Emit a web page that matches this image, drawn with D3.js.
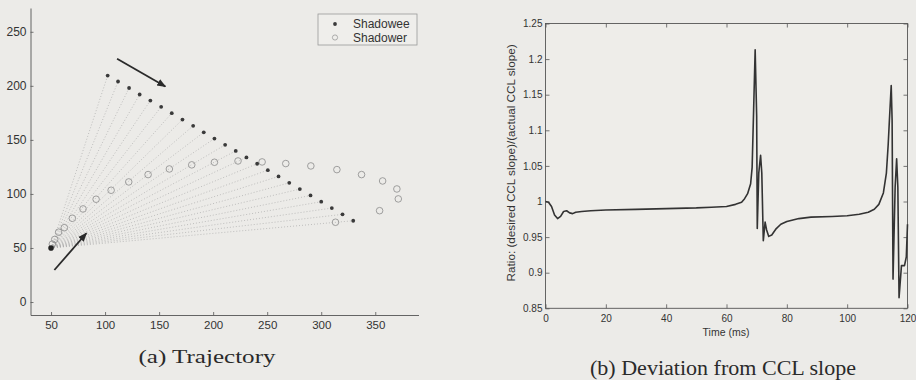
<!DOCTYPE html>
<html>
<head>
<meta charset="utf-8">
<script src="https://cdn.jsdelivr.net/npm/d3@7"></script>
<style>
  html, body { margin: 0; padding: 0; background: #ecebe8; }
  svg { display: block; }
  text { font-family: "Liberation Sans", Arial, sans-serif; fill: #333; }
  .cap { font-family: "Liberation Serif", "Times New Roman", serif; fill: #2a2a2a; }
</style>
</head>
<body>
<svg id="chart" width="916" height="380"></svg>
<script>
// ---------- (a) Trajectory data ----------
const refPoint = [50, 50];
const shadoweeX = [102.4, 112.0, 122.2, 132.0, 141.9, 151.9, 161.7, 171.6, 181.5, 191.3, 201.2, 211.1, 220.9, 230.8, 240.7, 250.6, 260.5, 270.4, 280.2, 290.1, 300.0, 309.8, 319.7, 329.6];
const shadoweeY = [209.5, 204.0, 198.0, 192.0, 186.4, 180.6, 174.7, 168.8, 163.0, 157.0, 151.2, 145.4, 139.8, 133.8, 127.9, 122.0, 116.2, 110.3, 104.5, 98.6, 92.8, 86.9, 81.1, 75.2];
const shadowerX = [51.2, 53.4, 57.0, 62.3, 69.7, 79.6, 91.7, 105.6, 121.9, 139.8, 159.5, 180.2, 201.2, 223.0, 245.3, 267.2, 290.4, 314.5, 337.3, 356.8, 370.0, 371.3, 354.0, 313.2];
const shadowerY = [53.6, 57.9, 64.6, 68.8, 77.5, 86.1, 95.1, 103.4, 111.1, 117.9, 123.1, 126.9, 129.3, 130.5, 129.6, 128.1, 125.9, 122.5, 117.9, 112.0, 104.6, 95.4, 84.5, 73.8];
const arrowFrom = [[111.1, 225.0], [53.1, 29.6]];
const arrowTo   = [[155.8, 199.4], [82.7, 63.6]];
const trajXTicks = [50, 100, 150, 200, 250, 300, 350];
const trajYTicks = [0, 50, 100, 150, 200, 250];
const legendLabels = ["Shadowee", "Shadower"];

// ---------- (b) Deviation data ----------
const timeMs = [0, 1, 2, 3, 4, 5, 6, 7, 8, 9, 10, 12, 15, 20, 30, 40, 50, 55, 60, 63, 65, 66, 67, 68, 68.5, 69, 69.5, 70, 70.2, 70.7, 71.3, 71.7, 72.2, 72.8, 73.3, 74, 75, 76.5, 78, 80, 84, 88, 95, 100, 104, 107, 109, 110.5, 112, 113, 113.6, 114, 114.6, 114.9, 115.2, 115.9, 116.4, 116.8, 117.2, 118, 119, 119.6, 120];
const ratio  = [1.0, 0.999, 0.993, 0.981, 0.976, 0.979, 0.986, 0.987, 0.984, 0.983, 0.985, 0.986, 0.987, 0.988, 0.989, 0.990, 0.991, 0.992, 0.993, 0.996, 0.999, 1.004, 1.011, 1.025, 1.048, 1.13, 1.213, 1.12, 0.962, 1.04, 1.065, 1.04, 0.945, 0.971, 0.96, 0.951, 0.953, 0.962, 0.968, 0.972, 0.976, 0.978, 0.979, 0.980, 0.982, 0.985, 0.989, 0.996, 1.012, 1.04, 1.08, 1.114, 1.163, 1.114, 0.891, 1.02, 1.060, 1.02, 0.865, 0.91, 0.91, 0.922, 0.968];
const devXTicks = [0, 20, 40, 60, 80, 100, 120];
const devYTicks = [0.85, 0.9, 0.95, 1, 1.05, 1.1, 1.15, 1.2, 1.25];

const svg = d3.select("#chart");
const ink = "#333";

// ================= (a) =================
const xL = d3.scaleLinear().domain([31, 390]).range([30.5, 418.5]);
const yL = d3.scaleLinear().domain([-12, 272]).range([315, 8]);
const gA = svg.append("g");

// axes
const axL = gA.append("g").attr("transform", `translate(${xL.range()[0]},0)`)
  .call(d3.axisLeft(yL).tickValues(trajYTicks).tickSize(-3).tickSizeOuter(0).tickPadding(4));
const axB = gA.append("g").attr("transform", `translate(0,${yL.range()[0]})`)
  .call(d3.axisBottom(xL).tickValues(trajXTicks).tickSize(-3).tickSizeOuter(0).tickPadding(6));
[axL, axB].forEach(a => {
  a.selectAll("path.domain").attr("stroke", "#555").attr("stroke-width", 0.9);
  a.selectAll(".tick line").attr("stroke", "#555").attr("stroke-width", 0.8);
  a.selectAll("text").attr("fill", ink).style("font-size", "12px").style("font-family", '"Liberation Sans", Arial, sans-serif');
});
axB.selectAll("text").style("font-size", "11.5px");

// dotted constraint lines
gA.append("g").selectAll("line").data(shadoweeX).join("line")
  .attr("x1", xL(refPoint[0])).attr("y1", yL(refPoint[1]))
  .attr("x2", (d, i) => xL(shadoweeX[i])).attr("y2", (d, i) => yL(shadoweeY[i]))
  .attr("stroke", "#a9a9a9").attr("stroke-width", 0.7).attr("stroke-dasharray", "1,2");

// shadower open circles
gA.append("g").selectAll("circle").data(shadowerX).join("circle")
  .attr("cx", (d, i) => xL(shadowerX[i])).attr("cy", (d, i) => yL(shadowerY[i]))
  .attr("r", 3.3).attr("fill", "none").attr("stroke", "#8a8a8a").attr("stroke-width", 0.8);

// shadowee filled dots
gA.append("g").selectAll("circle").data(shadoweeX).join("circle")
  .attr("cx", (d, i) => xL(shadoweeX[i])).attr("cy", (d, i) => yL(shadoweeY[i]))
  .attr("r", 1.9).attr("fill", "#3a3a3a");

// reference / start point
gA.append("circle").attr("cx", xL(refPoint[0])).attr("cy", yL(refPoint[1]))
  .attr("r", 2.8).attr("fill", "#222");

// arrows
const defs = svg.append("defs");
defs.append("marker").attr("id", "ah").attr("viewBox", "0 0 10 10")
  .attr("refX", 9).attr("refY", 5).attr("markerWidth", 5).attr("markerHeight", 5)
  .attr("orient", "auto")
  .append("path").attr("d", "M0,1 L10,5 L0,9 Z").attr("fill", "#2a2a2a");
gA.append("g").selectAll("line").data(arrowFrom).join("line")
  .attr("x1", d => xL(d[0])).attr("y1", d => yL(d[1]))
  .attr("x2", (d, i) => xL(arrowTo[i][0])).attr("y2", (d, i) => yL(arrowTo[i][1]))
  .attr("stroke", "#2a2a2a").attr("stroke-width", 1.8).attr("marker-end", "url(#ah)");

// legend
const lg = gA.append("g");
lg.append("rect").attr("x", 318).attr("y", 14).attr("width", 99).attr("height", 31)
  .attr("fill", "#efeeeb").attr("stroke", "#9a9a9a").attr("stroke-width", 0.8);
lg.append("circle").attr("cx", 335).attr("cy", 24).attr("r", 1.9).attr("fill", "#3a3a3a");
lg.append("circle").attr("cx", 335).attr("cy", 37.5).attr("r", 2.6).attr("fill", "none").attr("stroke", "#9a9a9a").attr("stroke-width", 0.8);
lg.selectAll("text").data(legendLabels).join("text")
  .attr("x", 353).attr("y", (d, i) => 28 + i * 14)
  .style("font-size", "12px").attr("fill", ink).text(d => d);

// caption
svg.append("text").attr("class", "cap").attr("x", 207).attr("y", 363)
  .attr("text-anchor", "middle").style("font-size", "19px")
  .attr("textLength", 137).attr("lengthAdjust", "spacingAndGlyphs")
  .text("(a) Trajectory");

// ================= (b) =================
const xR = d3.scaleLinear().domain([0, 120]).range([545.5, 907.5]);
const yR = d3.scaleLinear().domain([0.85, 1.25]).range([308.3, 23.5]);
const gB = svg.append("g");
const fmt = d => String(+d.toFixed(2));

gB.append("rect").attr("x", xR(0)).attr("y", yR(1.25))
  .attr("width", xR(120) - xR(0)).attr("height", yR(0.85) - yR(1.25))
  .attr("fill", "#eeede9").attr("stroke", "#555").attr("stroke-width", 0.9);

const bB = gB.append("g").attr("transform", `translate(0,${yR(0.85)})`)
  .call(d3.axisBottom(xR).tickValues(devXTicks).tickSize(-4).tickSizeOuter(0).tickPadding(7).tickFormat(d3.format("d")));
const bT = gB.append("g").attr("transform", `translate(0,${yR(1.25)})`)
  .call(d3.axisTop(xR).tickValues(devXTicks).tickSize(-4).tickSizeOuter(0).tickFormat(""));
const bL = gB.append("g").attr("transform", `translate(${xR(0)},0)`)
  .call(d3.axisLeft(yR).tickValues(devYTicks).tickSize(-4).tickSizeOuter(0).tickPadding(3).tickFormat(fmt));
const bR = gB.append("g").attr("transform", `translate(${xR(120)},0)`)
  .call(d3.axisRight(yR).tickValues(devYTicks).tickSize(-4).tickSizeOuter(0).tickFormat(""));
[bB, bT, bL, bR].forEach(a => {
  a.selectAll("path.domain").remove();
  a.selectAll(".tick line").attr("stroke", "#555").attr("stroke-width", 0.8);
  a.selectAll("text").attr("fill", ink).style("font-size", "10px").style("font-family", '"Liberation Sans", Arial, sans-serif');
});

// line
const lineGen = d3.line().x((d, i) => xR(timeMs[i])).y((d, i) => yR(ratio[i]));
gB.append("path").datum(ratio).attr("d", lineGen)
  .attr("fill", "none").attr("stroke", "#333").attr("stroke-width", 1.6).attr("stroke-linejoin", "round");

// axis labels
gB.append("text").attr("x", 726).attr("y", 336).attr("text-anchor", "middle")
  .style("font-size", "10.5px").text("Time (ms)");
gB.append("text").attr("transform", `translate(515,${(yR(0.85) + yR(1.25)) / 2 - 3}) rotate(-90)`)
  .attr("text-anchor", "middle").style("font-size", "10.5px")
  .attr("textLength", 237).attr("lengthAdjust", "spacingAndGlyphs")
  .text("Ratio: (desired CCL slope)/(actual CCL slope)");

// caption
svg.append("text").attr("class", "cap").attr("x", 723).attr("y", 375)
  .attr("text-anchor", "middle").style("font-size", "20px")
  .attr("textLength", 266).attr("lengthAdjust", "spacingAndGlyphs")
  .text("(b) Deviation from CCL slope");
</script>
</body>
</html>
